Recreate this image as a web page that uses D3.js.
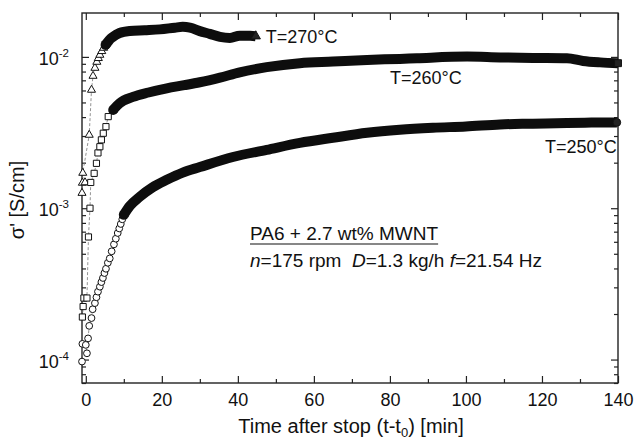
<!DOCTYPE html>
<html>
<head>
<meta charset="utf-8">
<script src="https://cdn.jsdelivr.net/npm/d3@7"></script>
<style>
  body { margin: 0; background: #fff; }
  text { font-family: "Liberation Sans", Arial, sans-serif; fill: #111; white-space: pre; }
</style>
</head>
<body>
<svg id="chart" width="634" height="442"></svg>
<script>
// time after stop (t-t0) [min] and sigma' [S/cm]
var t270 = [-1.0, -0.9, -0.2, -0.8, 0.9, 1.5, 1.9, 2.4, 2.9, 3.3, 3.7, 4.2, 4.7, 5.2, 5.8, 6.4, 7.1, 8.9,
            11.6, 15.5, 19.5, 23.4, 25.5, 27.4, 30, 32.6, 35.3, 37.9, 40.5, 43.2, 44.7];
var s270 = [0.00126, 0.00147, 0.00148, 0.00171, 0.00305, 0.00605, 0.00748, 0.00845, 0.00926, 0.0098, 0.0103,
            0.0109, 0.01146, 0.0120, 0.01256, 0.0131, 0.01355, 0.01439, 0.01483, 0.0150, 0.0152, 0.0156,
            0.0158, 0.0156, 0.0148, 0.0142, 0.01355, 0.01334, 0.0138, 0.0138, 0.0137];

var t260 = [-0.9, -0.7, -0.5, 0.3, 0.7, 1.1, 1.3, 2.2, 2.8, 3.2, 3.7, 4.1, 4.6, 5.3, 5.9, 7.2, 8.9, 12.4,
            16.5, 21.3, 25.9, 30, 35.3, 40.5, 47.6, 56.3, 65, 74, 82.6, 87.1, 100.3, 109, 117.6, 126.6,
            130.8, 135.3, 140];
var s260 = [1.91e-4, 2.24e-4, 2.55e-4, 2.55e-4, 6.46e-4, 1.0e-3, 1.48e-3, 1.70e-3, 1.98e-3, 2.32e-3, 2.55e-3,
            2.83e-3, 3.13e-3, 3.46e-3, 4.03e-3, 4.46e-3, 4.94e-3, 5.44e-3, 5.82e-3, 6.2e-3, 6.5e-3, 6.8e-3,
            7.3e-3, 7.9e-3, 8.55e-3, 9.09e-3, 9.31e-3, 9.55e-3, 9.7e-3, 9.8e-3, 1.005e-2, 9.92e-3, 9.85e-3,
            9.8e-3, 9.4e-3, 9.2e-3, 9.09e-3];

var t250 = [-1.0, -0.9, 0.0, 0.3, 0.6, 0.9, 1.5, 1.8, 2.4, 2.8, 3.2, 3.7, 4.1, 4.5, 4.9, 5.3, 5.8, 6.3, 6.8,
            7.4, 7.9, 8.4, 8.8, 9.2, 9.6, 10, 11.6, 14.2, 17.5, 21.3, 25.5, 30, 38.7, 47.6, 56.3, 65, 74,
            82.6, 91.3, 100, 109, 117.6, 126.6, 133, 139.7];
var s250 = [9.7e-5, 1.27e-4, 1.25e-4, 1.10e-4, 1.38e-4, 1.67e-4, 1.88e-4, 2.15e-4, 2.36e-4, 2.58e-4, 2.81e-4,
            3.03e-4, 3.25e-4, 3.46e-4, 3.73e-4, 3.98e-4, 4.36e-4, 4.66e-4, 5.19e-4, 5.77e-4, 6.29e-4, 6.86e-4,
            7.35e-4, 7.87e-4, 8.45e-4, 9.04e-4, 1.035e-3, 1.19e-3, 1.37e-3, 1.54e-3, 1.72e-3, 1.87e-3, 2.18e-3,
            2.43e-3, 2.70e-3, 2.92e-3, 3.15e-3, 3.30e-3, 3.40e-3, 3.47e-3, 3.58e-3, 3.62e-3, 3.66e-3,
            3.68e-3, 3.69e-3];

// from this time on the symbols overlap into one solid band
var denseFrom = [5.0, 7.0, 9.8];

var xTicks = [0, 20, 40, 60, 80, 100, 120, 140];
var xMinor = [10, 30, 50, 70, 90, 110, 130];
var yMajor = [1e-4, 1e-3, 1e-2];
var yMajorExp = ["-4", "-3", "-2"];
var labels = ["T=270\u00b0C", "T=260\u00b0C", "T=250\u00b0C"];

var svg = d3.select("#chart");
var m = { l: 82, r: 618, t: 13, b: 383 };

var x = d3.scaleLinear().domain([-1, 140]).range([m.l, m.r]);
var y = d3.scaleLog().domain([7e-5, 0.0195]).range([m.b, m.t]);

// axes, ticks pointing inwards on all four sides
var yMinor = y.ticks().filter(function(d) { return yMajor.indexOf(d) < 0; });

function noDomain(g) { g.select(".domain").remove(); }

svg.append("g").attr("transform", "translate(0," + m.b + ")")
  .call(d3.axisBottom(x).tickValues(xTicks).tickSize(-7).tickPadding(10))
  .call(noDomain)
  .call(function(g) { g.selectAll("text").style("font-size", "18px").attr("fill", "#111"); });
svg.append("g").attr("transform", "translate(0," + m.b + ")")
  .call(d3.axisBottom(x).tickValues(xMinor).tickSize(-4).tickFormat("")).call(noDomain);
svg.append("g").attr("transform", "translate(0," + m.t + ")")
  .call(d3.axisTop(x).tickValues(xTicks).tickSize(-7).tickFormat("")).call(noDomain);
svg.append("g").attr("transform", "translate(0," + m.t + ")")
  .call(d3.axisTop(x).tickValues(xMinor).tickSize(-4).tickFormat("")).call(noDomain);

svg.append("g").attr("transform", "translate(" + m.l + ",0)")
  .call(d3.axisLeft(y).tickValues(yMajor).tickSize(-7).tickFormat("")).call(noDomain);
svg.append("g").attr("transform", "translate(" + m.l + ",0)")
  .call(d3.axisLeft(y).tickValues(yMinor).tickSize(-4).tickFormat("")).call(noDomain);
svg.append("g").attr("transform", "translate(" + m.r + ",0)")
  .call(d3.axisRight(y).tickValues(yMajor).tickSize(-7).tickFormat("")).call(noDomain);
svg.append("g").attr("transform", "translate(" + m.r + ",0)")
  .call(d3.axisRight(y).tickValues(yMinor).tickSize(-4).tickFormat("")).call(noDomain);

svg.selectAll(".tick line").attr("stroke", "#222").attr("stroke-width", 1.2);

svg.append("rect")
  .attr("x", m.l).attr("y", m.t)
  .attr("width", m.r - m.l).attr("height", m.b - m.t)
  .attr("fill", "none").attr("stroke", "#222").attr("stroke-width", 1.4);

// y tick labels as powers of ten
var ylab = svg.selectAll(".ylab").data(yMajor).enter().append("text")
  .attr("class", "ylab")
  .attr("text-anchor", "end")
  .attr("x", 69)
  .attr("y", function(d) { return y(d) + 8; })
  .style("font-size", "18px");
ylab.append("tspan").text("10");
ylab.append("tspan").attr("dy", -8).style("font-size", "11.5px")
  .text(function(d, i) { return yMajorExp[i]; });

// axis titles
var xt = svg.append("text").attr("x", 351).attr("y", 433)
  .attr("text-anchor", "middle").style("font-size", "20px");
xt.append("tspan").text("Time after stop (t-t");
xt.append("tspan").attr("dy", 4).style("font-size", "13px").text("0");
xt.append("tspan").attr("dy", -4).text(") [min]");

svg.append("text")
  .attr("transform", "translate(24,200) rotate(-90)")
  .attr("text-anchor", "middle").style("font-size", "20px")
  .text("\u03c3' [S/cm]");

// series
var series = [
  { t: t270, s: s270, sym: d3.symbolTriangle, size: 28 },
  { t: t260, s: s260, sym: d3.symbolSquare, size: 38 },
  { t: t250, s: s250, sym: d3.symbolCircle, size: 36 }
];

var thin = d3.line().x(function(d) { return x(d[0]); }).y(function(d) { return y(d[1]); });
var band = d3.line().x(function(d) { return x(d[0]); }).y(function(d) { return y(d[1]); })
  .curve(d3.curveMonotoneX);

series.forEach(function(se, k) {
  var pts = se.t.map(function(d, i) { return [d, se.s[i]]; });
  var dense = pts.filter(function(d) { return d[0] >= denseFrom[k]; });
  var g = svg.append("g");

  g.append("path").datum(pts)
    .attr("d", thin).attr("fill", "none")
    .attr("stroke", "#777").attr("stroke-width", 0.8).attr("stroke-dasharray", "3,2");

  g.selectAll("path.m").data(pts.filter(function(d) { return d[0] < denseFrom[k]; }))
    .enter().append("path").attr("class", "m")
    .attr("transform", function(d) { return "translate(" + x(d[0]) + "," + y(d[1]) + ")"; })
    .attr("d", d3.symbol().type(se.sym).size(se.size))
    .attr("fill", "#fff").attr("stroke", "#111").attr("stroke-width", 1);

  g.append("path").datum(dense)
    .attr("d", band).attr("fill", "none")
    .attr("stroke", "#0d0d0d").attr("stroke-width", 10).attr("stroke-linejoin", "round");

  // rounded start of the band
  g.append("circle")
    .attr("cx", x(dense[0][0])).attr("cy", y(dense[0][1])).attr("r", 5)
    .attr("fill", "#0d0d0d");

  var last = pts[pts.length - 1];
  g.append("path")
    .attr("transform", "translate(" + x(last[0]) + "," + y(last[1]) + ")")
    .attr("d", d3.symbol().type(se.sym).size(se.size + 10))
    .attr("fill", "#222").attr("stroke", "#111");
});

// curve labels
var labPos = [[44.7, 0.0137], [87.1, 9.8e-3], [126.6, 3.66e-3]];
var labDx = [10, -27, -22];
var labDy = [7, 26, 30];
svg.selectAll(".clab").data(labels).enter().append("text")
  .attr("class", "clab")
  .attr("x", function(d, i) { return x(labPos[i][0]) + labDx[i]; })
  .attr("y", function(d, i) { return y(labPos[i][1]) + labDy[i]; })
  .style("font-size", "18px")
  .text(function(d) { return d; });

// sample note
var n1 = svg.append("text").attr("x", 250).attr("y", 240).style("font-size", "19px")
  .text("PA6 + 2.7 wt% MWNT");
var w1 = n1.node().getComputedTextLength();
svg.append("line").attr("x1", 250).attr("x2", 250 + w1).attr("y1", 244).attr("y2", 244)
  .attr("stroke", "#111").attr("stroke-width", 1.2);

var n2 = svg.append("text").attr("x", 250).attr("y", 267).style("font-size", "19px");
n2.append("tspan").style("font-style", "italic").text("n");
n2.append("tspan").text("=175 rpm  ");
n2.append("tspan").style("font-style", "italic").text("D");
n2.append("tspan").text("=1.3 kg/h ");
n2.append("tspan").style("font-style", "italic").text("f");
n2.append("tspan").text("=21.54 Hz");
</script>
</body>
</html>
